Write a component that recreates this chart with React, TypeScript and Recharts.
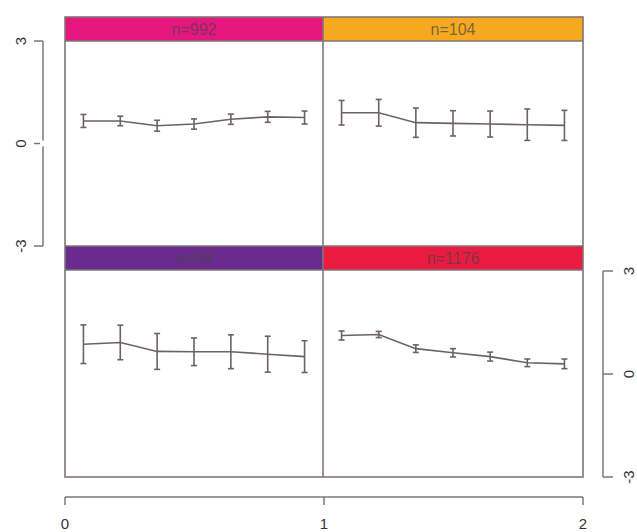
import React from 'react';
import { LineChart, Line, XAxis, YAxis, ErrorBar } from 'recharts';

// ---- data ----
const xPositions = [0.0714, 0.2143, 0.3571, 0.5, 0.6429, 0.7857, 0.9286];

const topLeftMean = [0.66, 0.66, 0.52, 0.57, 0.71, 0.78, 0.76];
const topLeftErr = [0.19, 0.14, 0.16, 0.15, 0.15, 0.16, 0.19];

const topRightMean = [0.9, 0.9, 0.61, 0.59, 0.57, 0.55, 0.53];
const topRightErr = [0.36, 0.39, 0.43, 0.37, 0.38, 0.46, 0.44];

const bottomLeftMean = [0.85, 0.9, 0.64, 0.63, 0.63, 0.56, 0.49];
const bottomLeftErr = [0.56, 0.5, 0.52, 0.4, 0.49, 0.52, 0.46];

const bottomRightMean = [1.1, 1.13, 0.72, 0.6, 0.49, 0.31, 0.28];
const bottomRightErr = [0.13, 0.09, 0.11, 0.12, 0.13, 0.11, 0.14];

const panelLabels = ['n=992', 'n=104', 'n=58', 'n=1176'];
const panelColors = ['#E5177F', '#F6A81E', '#6A2A8E', '#EA1A40'];

const yTicks = [-3, 0, 3];
const yDomain = [-3, 3];
const xTicks = [0, 1, 2];
const xDomain = [0, 2];
const panelXDomain = [0, 1];

// ---- styles ----
const LINE = '#6d6262';
const FRAME = '#807575';
const AXIS = '#807575';
const FONT = '"Liberation Sans", Arial, sans-serif';

const build = (means: number[], errs: number[]) =>
  xPositions.map((x, i) => ({ x, y: means[i], e: errs[i] }));

type PanelProps = { left: number; top: number; width: number; height: number; data: any[] };

function Panel({ left, top, width, height, data }: PanelProps) {
  return (
    <div style={{ position: 'absolute', left, top }}>
      <LineChart width={width} height={height} data={data} margin={{ top: 0, right: 0, bottom: 0, left: 0 }}>
        <XAxis type="number" dataKey="x" domain={panelXDomain} hide />
        <YAxis type="number" dataKey="y" domain={yDomain} hide />
        <Line
          type="linear"
          dataKey="y"
          stroke={LINE}
          strokeWidth={1.6}
          dot={false}
          activeDot={false}
          isAnimationActive={false}
        >
          <ErrorBar dataKey="e" width={3} stroke={LINE} strokeWidth={1.6} direction="y" isAnimationActive={false} />
        </Line>
      </LineChart>
    </div>
  );
}

const RotTick = (props: any) => {
  const { x, y, payload, shift } = props;
  const cx = x + shift;
  return (
    <text
      x={cx}
      y={y}
      transform={`rotate(-90 ${cx} ${y})`}
      textAnchor="middle"
      dominantBaseline="central"
      fontSize={15}
      fill="#333"
      fontFamily={FONT}
    >
      {payload.value}
    </text>
  );
};

const BottomTick = (props: any) => {
  const { x, y, payload } = props;
  return (
    <text x={x} y={y + 16} textAnchor="middle" dominantBaseline="central" fontSize={15} fill="#333" fontFamily={FONT}>
      {payload.value}
    </text>
  );
};

const dummy = [{ x: 0, y: 0 }];

export default function App() {
  const strips = [
    { x: 65, y: 17, w: 258 },
    { x: 323, y: 17, w: 260 },
    { x: 65, y: 246, w: 258 },
    { x: 323, y: 246, w: 260 },
  ];
  return (
    <div style={{ position: 'absolute', left: 0, top: 0, width: 637, height: 532, background: '#fff' }}>
      {/* panels */}
      <Panel left={65} top={41} width={258} height={205} data={build(topLeftMean, topLeftErr)} />
      <Panel left={323} top={41} width={260} height={205} data={build(topRightMean, topRightErr)} />
      <Panel left={65} top={270} width={258} height={207} data={build(bottomLeftMean, bottomLeftErr)} />
      <Panel left={323} top={270} width={260} height={207} data={build(bottomRightMean, bottomRightErr)} />

      {/* left y axis (top row) */}
      <div style={{ position: 'absolute', left: 0, top: 0 }}>
        <LineChart width={70} height={532} data={dummy} margin={{ top: 41, bottom: 286, left: 0, right: 0 }}>
          <XAxis type="number" dataKey="x" domain={panelXDomain} hide />
          <YAxis
            type="number"
            dataKey="y"
            domain={yDomain}
            allowDataOverflow
            ticks={yTicks}
            interval={0}
            width={43}
            tickSize={9}
            axisLine={{ stroke: AXIS, strokeWidth: 1.5 }}
            tickLine={{ stroke: AXIS, strokeWidth: 1.5 }}
            tick={(p: any) => <RotTick {...p} shift={-12} />}
          />
          <Line dataKey="y" stroke="none" dot={false} activeDot={false} isAnimationActive={false} />
        </LineChart>
      </div>

      {/* right y axis (bottom row) */}
      <div style={{ position: 'absolute', left: 0, top: 0 }}>
        <LineChart width={637} height={532} data={dummy} margin={{ top: 271, bottom: 55, left: 580, right: 0 }}>
          <XAxis type="number" dataKey="x" domain={panelXDomain} hide />
          <YAxis
            type="number"
            dataKey="y"
            orientation="right"
            domain={yDomain}
            allowDataOverflow
            ticks={yTicks}
            interval={0}
            width={34}
            tickSize={10}
            axisLine={{ stroke: AXIS, strokeWidth: 1.5 }}
            tickLine={{ stroke: AXIS, strokeWidth: 1.5 }}
            tick={(p: any) => <RotTick {...p} shift={13} />}
          />
          <Line dataKey="y" stroke="none" dot={false} activeDot={false} isAnimationActive={false} />
        </LineChart>
      </div>

      {/* bottom x axis */}
      <div style={{ position: 'absolute', left: 0, top: 0 }}>
        <LineChart width={637} height={532} data={dummy} margin={{ top: 400, bottom: 0, left: 65, right: 54 }}>
          <XAxis
            type="number"
            dataKey="x"
            domain={xDomain}
            ticks={xTicks}
            interval={0}
            height={35}
            tickSize={8}
            axisLine={{ stroke: AXIS, strokeWidth: 1.5 }}
            tickLine={{ stroke: AXIS, strokeWidth: 1.5 }}
            tick={(p: any) => <BottomTick {...p} />}
          />
          <YAxis type="number" dataKey="y" domain={yDomain} hide />
        </LineChart>
      </div>

      {/* strips and frame */}
      <svg width={637} height={532} style={{ position: 'absolute', left: 0, top: 0, pointerEvents: 'none' }}>
        {strips.map((s, i) => (
          <g key={i}>
            <rect x={s.x} y={s.y} width={s.w} height={24} fill={panelColors[i]} />
            <text
              x={s.x + s.w / 2}
              y={s.y + 12.5}
              textAnchor="middle"
              dominantBaseline="central"
              fontSize={16}
              fontFamily={FONT}
              fill="rgba(70,70,70,0.7)"
            >
              {panelLabels[i]}
            </text>
          </g>
        ))}
        <rect x={65} y={17} width={518} height={460} fill="none" stroke={FRAME} strokeWidth={1.6} />
        <line x1={323} y1={17} x2={323} y2={477} stroke={FRAME} strokeWidth={1.6} />
        <line x1={65} y1={41} x2={583} y2={41} stroke={FRAME} strokeWidth={1.6} />
        <line x1={65} y1={246} x2={583} y2={246} stroke={FRAME} strokeWidth={1.6} />
        <line x1={65} y1={270} x2={583} y2={270} stroke={FRAME} strokeWidth={1.6} />
      </svg>
    </div>
  );
}
